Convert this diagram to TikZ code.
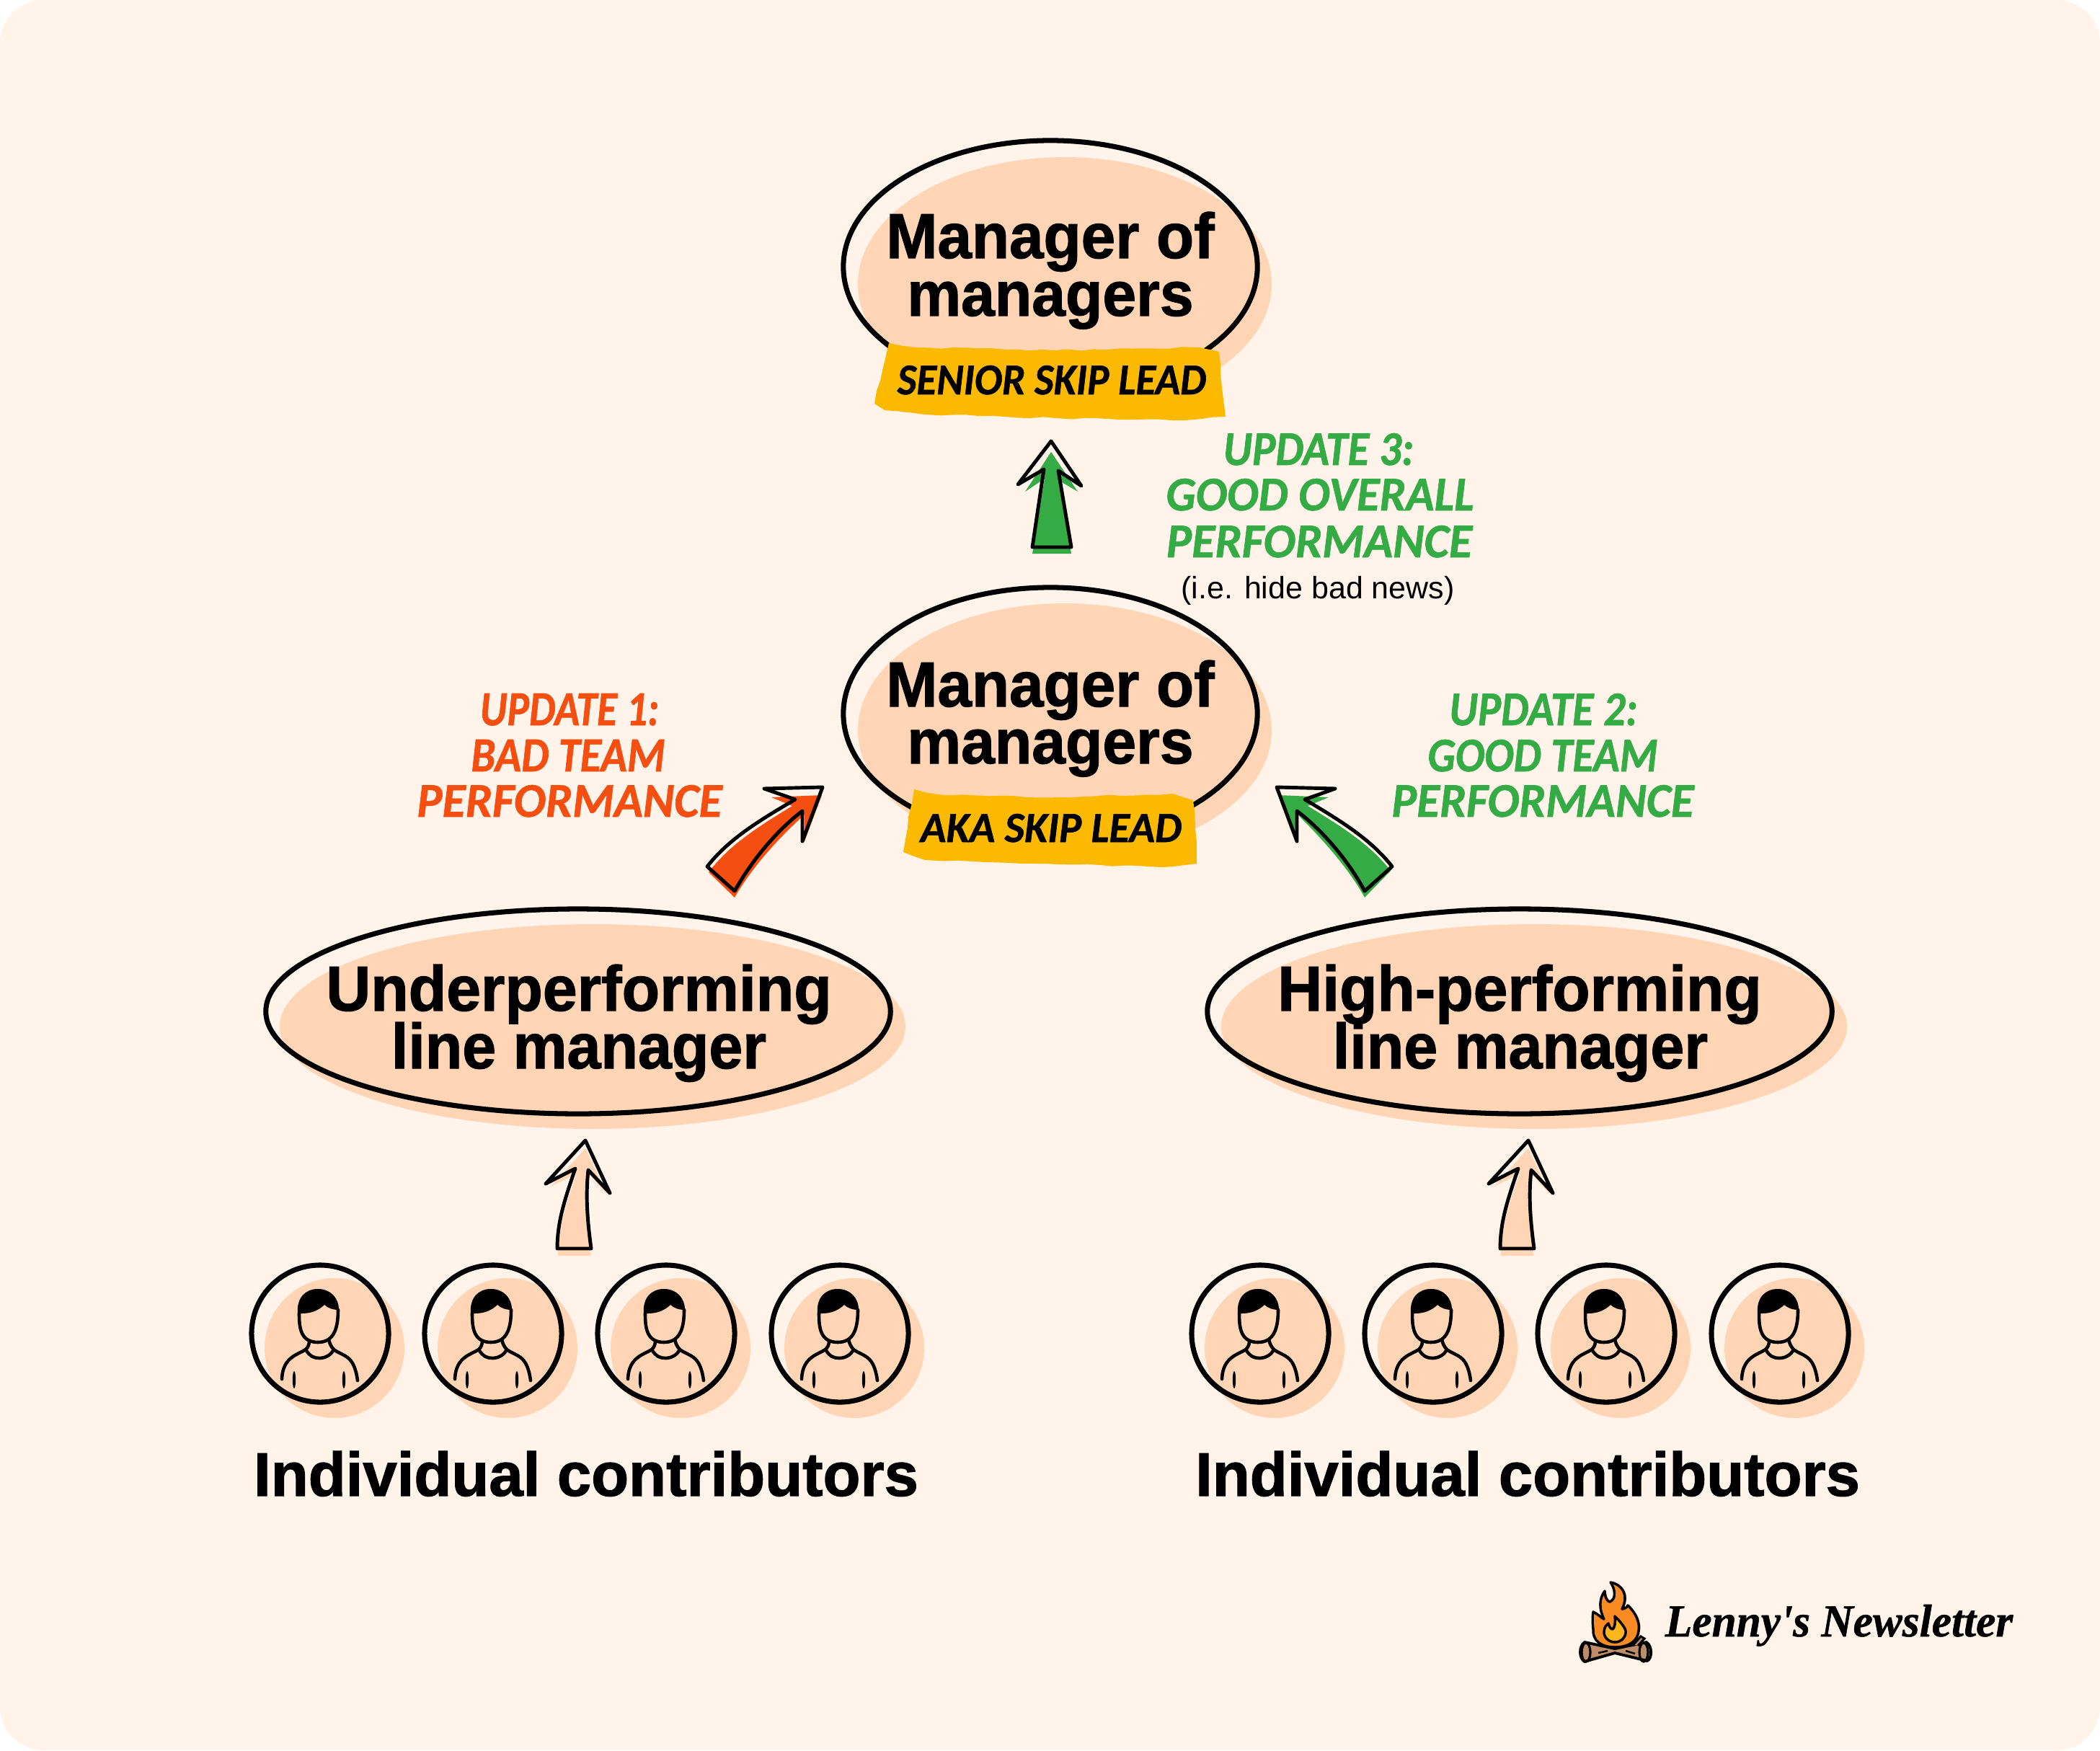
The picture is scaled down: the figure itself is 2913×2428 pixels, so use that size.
\documentclass[tikz,border=0pt]{standalone}
\usepackage{fontspec}
\usepackage{graphicx}
\usetikzlibrary{shapes.geometric,decorations.pathmorphing}
\setmainfont{Liberation Sans}
\newfontfamily\headfont[FakeBold=1.4]{Liberation Sans Bold}
\newfontfamily\handfont[FakeBold=1.0]{Carlito Bold Italic}
\newfontfamily\plainfont{Liberation Sans}
\newfontfamily\logofont[FakeBold=0.8]{Liberation Serif Bold Italic}
\definecolor{bgc}{HTML}{FFF3EA}
\definecolor{peach}{HTML}{FFD5B5}
\definecolor{ember}{HTML}{F44E11}
\definecolor{leaf}{HTML}{34AB44}
\definecolor{amber}{HTML}{FBB900}
\definecolor{flameo}{HTML}{F98B22}
\definecolor{flamey}{HTML}{FDB71C}
\definecolor{logc}{HTML}{BC8D68}
\newcommand{\fitbox}[3]{\resizebox{#1cm}{#2cm}{#3}}
\newcommand{\fitw}[2]{\resizebox{#1cm}{!}{#2}}
\tikzset{
  txt/.style={inner sep=0pt,outer sep=0pt,anchor=base},
  oval/.style={ellipse,draw=black,line width=2pt,inner sep=0pt,outer sep=0pt},
  rim/.style={draw=black,line width=1.4pt,line join=round},
  blob/.style={fill=peach},
  paint/.style={decorate,decoration={random steps,segment length=5pt,amplitude=0.35pt},fill=amber},
  person/.pic={
    \fill[blob] (20,20) circle [x radius=97,y radius=97];
    \node[oval,minimum width=1.90cm,minimum height=1.90cm] at (0,0) {};
    \fill[black] (-31,-28) .. controls (-33,-50) and (-20,-62) .. (-3,-62)
      .. controls (14,-62) and (26,-50) .. (26,-33)
      .. controls (17,-33) and (10,-36) .. (6,-40)
      .. controls (-2,-32) and (-13,-28) .. (-25,-28) -- cycle;
    \draw[line width=1.3pt,line cap=round] (-29,-28) .. controls (-29,-10) and (-28,12) .. (-3,12)
      .. controls (18,12) and (25,-5) .. (25,-33);
    \draw[line width=1.3pt,line cap=round,line join=round]
      (-15,10) .. controls (-15,16) and (-17,19) .. (-20,22)
      .. controls (-14,32) and (-8,34) .. (-1,34)
      .. controls (7,34) and (15,30) .. (19,22)
      .. controls (15,18) and (13,13) .. (12,8);
    \draw[line width=1.3pt,line cap=round] (-20,22) .. controls (-30,29) and (-52,32) .. (-53,63);
    \draw[line width=1.3pt,line cap=round] (19,22) .. controls (32,32) and (47,28) .. (52,65);
    \fill[black] (-36,64) circle [x radius=2.2,y radius=12];
    \fill[black] (33,64) circle [x radius=2.2,y radius=12];
  }
}
\begin{document}
\begin{tikzpicture}[x=0.01cm,y=-0.01cm]
\useasboundingbox (0,0) rectangle (2913,2428);
\fill[white] (0,0) rectangle (2913,2428);
\fill[bgc,rounded corners=6mm] (0,0) rectangle (2913,2428);

% ovals
\fill[blob] (1477,394) circle [x radius=287,y radius=176];
\node[oval,minimum width=5.74cm,minimum height=3.50cm] (topoval) at (1457,370) {};
\fill[blob] (1477,1013) circle [x radius=287,y radius=176];
\node[oval,minimum width=5.74cm,minimum height=3.50cm] (midoval) at (1457,990) {};
\fill[blob] (822,1424) circle [x radius=434,y radius=142];
\node[oval,minimum width=8.66cm,minimum height=2.84cm] (leftoval) at (802,1403) {};
\fill[blob] (2128,1424) circle [x radius=434,y radius=142];
\node[oval,minimum width=8.66cm,minimum height=2.84cm] (rightoval) at (2108,1403) {};

% banners
\pgfmathsetseed{42}
\path[paint] (1233,476) -- (1270,482) -- (1464,486) -- (1664,482) -- (1691,488) -- (1697,554) -- (1700,578) -- (1645,583) -- (1464,580) -- (1282,575) -- (1227,569) -- (1213,560) -- (1224,514) -- cycle;
\path[paint] (1268,1095) -- (1300,1102) -- (1467,1106) -- (1627,1101) -- (1655,1110) -- (1658,1150) -- (1660,1198) -- (1613,1203) -- (1467,1199) -- (1283,1193) -- (1253,1182) -- (1260,1133) -- cycle;

% ellipse labels
\node[txt] (t1) at (1457,358) {\fitbox{4.55}{0.64}{\headfont Manager of}};
\node[txt] (t2) at (1457,438) {\fitbox{3.97}{0.47}{\headfont managers}};
\node[txt] (t3) at (1457,980) {\fitbox{4.55}{0.64}{\headfont Manager of}};
\node[txt] (t4) at (1457,1059) {\fitbox{3.97}{0.47}{\headfont managers}};
\node[txt] (t5) at (803,1402) {\fitbox{7.01}{0.64}{\headfont Underperforming}};
\node[txt] (t6) at (803,1482) {\fitbox{5.20}{0.64}{\headfont line manager}};
\node[txt] (t7) at (2108,1402) {\fitbox{6.71}{0.64}{\headfont High-performing}};
\node[txt] (t8) at (2109,1482) {\fitbox{5.20}{0.64}{\headfont line manager}};
\node[txt] (t9) at (813,2075) {\fitbox{9.21}{0.62}{\headfont Individual contributors}};
\node[txt] (t10) at (2119,2075) {\fitbox{9.21}{0.62}{\headfont Individual contributors}};

% banner labels
\node[txt] (b1) at (1459,547) {\fitbox{4.28}{0.40}{\handfont SENIOR SKIP LEAD}};
\node[txt] (b2) at (1458,1168) {\fitbox{3.62}{0.39}{\handfont AKA SKIP LEAD}};

% update labels
\node[txt,text=ember] (u1a) at (790,1006) {\fitbox{2.48}{0.44}{\handfont UPDATE 1:}};
\node[txt,text=ember] (u1b) at (788,1070) {\fitbox{2.69}{0.44}{\handfont BAD TEAM}};
\node[txt,text=ember] (u1c) at (790,1133) {\fitbox{4.23}{0.44}{\handfont PERFORMANCE}};
\node[txt,text=leaf] (u2a) at (2141,1006) {\fitbox{2.61}{0.44}{\handfont UPDATE 2:}};
\node[txt,text=leaf] (u2b) at (2140,1070) {\fitbox{3.19}{0.44}{\handfont GOOD TEAM}};
\node[txt,text=leaf] (u2c) at (2140,1133) {\fitbox{4.19}{0.44}{\handfont PERFORMANCE}};
\node[txt,text=leaf] (u3a) at (1829,645) {\fitbox{2.64}{0.44}{\handfont UPDATE 3:}};
\node[txt,text=leaf] (u3b) at (1831,708) {\fitbox{4.27}{0.44}{\handfont GOOD OVERALL}};
\node[txt,text=leaf] (u3c) at (1830,773) {\fitbox{4.24}{0.44}{\handfont PERFORMANCE}};
\node[txt] (u3d) at (1828,830) {\fitw{3.79}{\plainfont (i.e. hide bad news)}};

% green up arrow
\fill[leaf] (1458,627) -- (1422,682) -- (1449,664) -- (1432,768) -- (1486,768) -- (1468,666) -- (1495,682) -- cycle;
\draw[rim] (1458,612) -- (1412,672) -- (1448,651) -- (1432,759) -- (1486,759) -- (1468,653) -- (1500,674) -- cycle;

% orange arrow
\fill[ember] (1140,1103) -- (1070,1106) -- (1099,1118) .. controls (1050,1148) and (1012,1172) .. (983,1210) -- (1019,1245) .. controls (1045,1200) and (1083,1160) .. (1116,1130) -- (1116,1167) -- cycle;
\draw[rim] (1141,1092) -- (1060,1094) -- (1103,1109) .. controls (1050,1140) and (1010,1165) .. (981,1202) -- (1019,1236) .. controls (1045,1190) and (1080,1150) .. (1113,1125) -- (1113,1167) -- cycle;

% green left arrow
\fill[leaf] (1773,1103) -- (1843,1106) -- (1814,1118) .. controls (1863,1148) and (1901,1172) .. (1929,1208) -- (1893,1245) .. controls (1868,1200) and (1830,1160) .. (1800,1130) -- (1800,1167) -- cycle;
\draw[rim] (1771,1092) -- (1852,1094) -- (1810,1109) .. controls (1862,1140) and (1902,1165) .. (1931,1202) -- (1893,1236) .. controls (1868,1190) and (1832,1150) .. (1799,1125) -- (1799,1167) -- cycle;

% peach arrows
\foreach \dx in {0,1308}{
\begin{scope}[shift={(\dx,0)}]
\fill[blob] (812,1593) -- (764,1646) -- (800,1628) .. controls (785,1670) and (774,1705) .. (774,1742) -- (819,1742) .. controls (815,1700) and (812,1660) .. (818,1630) -- (842,1657) -- cycle;
\draw[rim] (812,1582) -- (757,1642) -- (798,1621) .. controls (783,1665) and (773,1695) .. (773,1732) -- (820,1732) .. controls (815,1695) and (812,1660) .. (816,1623) -- (846,1655) -- cycle;
\end{scope}}

% people
\foreach \cx in {444,684,924,1165,1748,1988,2228,2469}{
  \pic at (\cx,1850) {person};
}

% logo
\draw[black,line width=1.1pt,fill=logc,line join=round] (2198,2278) -- (2240,2287) -- (2284,2278) .. controls (2292,2284) and (2292,2300) .. (2285,2304) -- (2240,2293) -- (2198,2305) .. controls (2190,2300) and (2190,2284) .. (2198,2278) -- cycle;
\draw[line width=0.9pt] (2200,2292) circle [x radius=6,y radius=13];
\draw[line width=0.9pt] (2280,2292) circle [x radius=6,y radius=13];
\draw[line width=0.7pt] (2217,2293) -- (2230,2290) (2255,2290) -- (2268,2294);
\draw[line width=0.9pt,fill=logc] (2266,2281) -- (2276,2270) -- (2281,2273) -- (2272,2283);
\fill[flameo] (2242,2285) .. controls (2222,2285) and (2211,2275) .. (2212,2260) .. controls (2211,2250) and (2211,2242) .. (2212,2236) .. controls (2220,2240) and (2224,2245) .. (2227,2246) .. controls (2220,2232) and (2220,2218) .. (2228,2207) .. controls (2228,2216) and (2232,2222) .. (2235,2222) .. controls (2245,2218) and (2242,2203) .. (2236,2195) .. controls (2252,2198) and (2262,2212) .. (2252,2232) .. controls (2256,2232) and (2259,2229) .. (2260,2227) .. controls (2272,2238) and (2277,2252) .. (2275,2262) .. controls (2274,2276) and (2262,2285) .. (2242,2285) -- cycle;
\draw[line width=1pt,line join=round] (2240,2285) .. controls (2220,2285) and (2209,2275) .. (2210,2260) .. controls (2209,2250) and (2209,2242) .. (2210,2236) .. controls (2218,2240) and (2222,2245) .. (2225,2246) .. controls (2218,2232) and (2218,2218) .. (2226,2207) .. controls (2226,2216) and (2230,2222) .. (2233,2222) .. controls (2243,2218) and (2240,2203) .. (2234,2195) .. controls (2250,2198) and (2260,2212) .. (2250,2232) .. controls (2254,2232) and (2257,2229) .. (2258,2227) .. controls (2270,2238) and (2275,2252) .. (2273,2262) .. controls (2272,2276) and (2260,2285) .. (2240,2285) -- cycle;
\draw[line width=1pt,fill=flamey,line join=round] (2240,2242) .. controls (2250,2252) and (2256,2260) .. (2255,2265) .. controls (2254,2273) and (2248,2278) .. (2240,2278) .. controls (2232,2278) and (2225,2272) .. (2225,2264) .. controls (2225,2258) and (2228,2254) .. (2231,2252) .. controls (2232,2256) and (2234,2260) .. (2237,2260) .. controls (2240,2258) and (2241,2250) .. (2240,2242) -- cycle;
\node[txt] (logo) at (2551,2270) {\fitbox{4.82}{0.44}{\logofont Lenny's Newsletter}};
\end{tikzpicture}
\end{document}
